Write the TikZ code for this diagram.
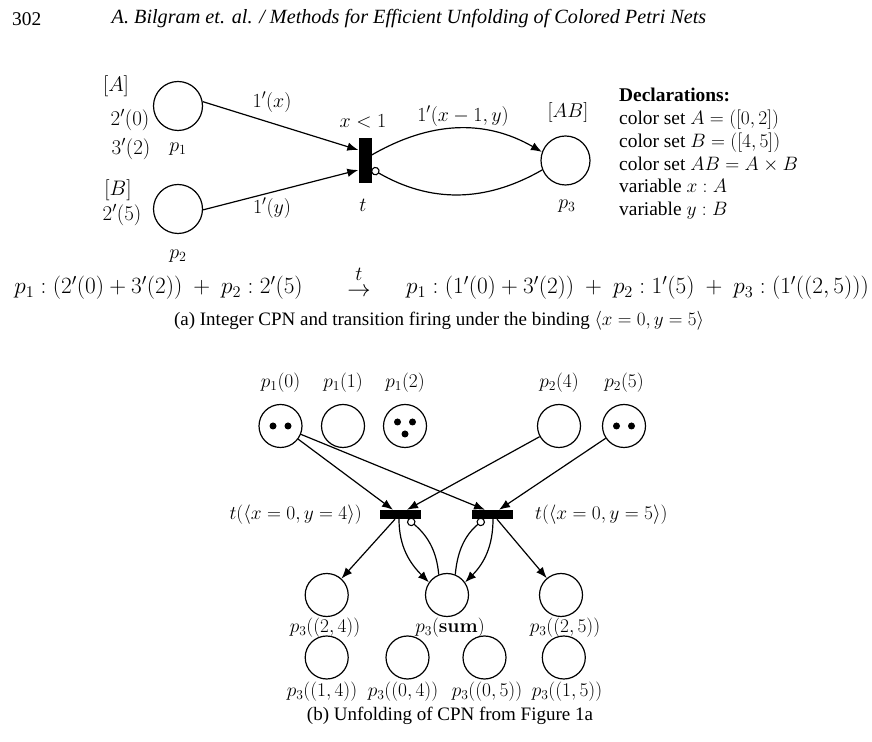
\RequirePackage{fix-cm}
\documentclass[tikz,border=0pt]{standalone}
\usepackage{amsmath}
\usepackage[no-math]{fontspec}
\setmainfont{Liberation Serif}
\usetikzlibrary{arrows.meta}
\newcommand\figfs{\fontsize{19.4}{22.8}\selectfont}
\newcommand\capfs{\fontsize{19}{22.8}\selectfont}
\newcommand\labfs{\fontsize{20}{24}\selectfont}
\newcommand\mrkfs{\fontsize{21}{24}\selectfont}
\newcommand\firefs{\fontsize{23.3}{28}\selectfont}
\newcommand\hdfs{\fontsize{20.2}{24}\selectfont}
\begin{document}
\begin{tikzpicture}[x=1pt,y=1pt,font=\figfs,
  lw/.style={line width=1.2pt},
  placea/.style={circle,draw,lw,minimum size=49pt,inner sep=0pt},
  placeb/.style={circle,draw,lw,minimum size=43pt,inner sep=0pt},
  transa/.style={fill=black,minimum width=13pt,minimum height=45pt,inner sep=0pt},
  transb/.style={fill=black,minimum width=41pt,minimum height=9pt,inner sep=0pt},
  arr/.style={lw,-{Latex[length=11pt,width=8.5pt]}},
  inh/.style={lw,-{Circle[open,length=8.5pt,width=8.5pt,line width=1.1pt]}},
  tok/.style={circle,fill=black,minimum size=7pt,inner sep=0pt},
  txt/.style={inner sep=0pt},
  lab/.style={txt,font=\labfs},
  mrk/.style={txt,font=\mrkfs}]
\useasboundingbox (0,0) rectangle (872,741);
% header
\node[txt,anchor=west] (pg) at (12,722) {302};
\node[txt,font=\hdfs] (hd) at (409,722) {\textit{A. Bilgram et. al. / Methods for Efficient Unfolding of Colored Petri Nets}};
% ---------- part (a)
\node[placea] (p1) at (178,635) {};
\node[placea] (p2) at (178,532) {};
\node[transa] (t) at (365,580) {};
\node[placea] (p3) at (565.5,580.5) {};
\node[mrk] (lA) at (116,655) {$[A]$};
\node[mrk] (m10) at (130,621) {$2'(0)$};
\node[mrk] (m12) at (131,592) {$3'(2)$};
\node[lab] (lp1) at (178,592) {$p_1$};
\node[mrk] (lB) at (118,551) {$[B]$};
\node[mrk] (m25) at (122,526) {$2'(5)$};
\node[lab] (lp2) at (178,485) {$p_2$};
\node[lab] (grd) at (363,620) {$x<1$};
\node[lab] (lt) at (363,536) {$t$};
\node[lab] (ex) at (272,639) {$1'(x)$};
\node[lab] (ey) at (272,533) {$1'(y)$};
\node[lab] (exy) at (463,625) {$1'(x-1,y)$};
\node[lab] (lAB) at (568,628) {$[AB]$};
\node[lab] (lp3) at (567,535) {$p_3$};
\node[txt,anchor=north west,align=left] (decl) at (619,653) {\textbf{Declarations:}\\
color set $A=([0,2])$\\
color set $B=([4,5])$\\
color set $AB=A\times B$\\
variable $x:A$\\
variable $y:B$};
\draw[arr] (p1.10) -- ([yshift=11pt]t.west);
\draw[arr] (p2.-2) -- ([yshift=-9pt]t.west);
\draw[arr] ([yshift=6pt]t.east) to[out=30,in=150] (p3.160);
\draw[inh] (p3.202) to[out=210,in=-30] ([yshift=-8pt]t.east);
% firing
\node[txt,font=\firefs] (fl) at (158.5,453) {$p_1: (2'(0)+3'(2))\ +\ p_2: 2'(5)$};
\node[txt,font=\firefs,align=center] (fa) at (359,458.4) {{\labfs$t$}\\[-12pt]$\rightarrow$};
\node[txt,font=\firefs] (fr) at (637.5,453) {$p_1: (1'(0)+3'(2))\ +\ p_2: 1'(5)\ +\ p_3: (1'((2,5)))$};
\node[txt,font=\capfs] (capa) at (439,420) {(a) Integer CPN and transition firing under the binding $\langle x=0,y=5\rangle$};
% ---------- part (b)
\node[placeb] (q10) at (280.5,315) {};
\node[placeb] (q11) at (343,315) {};
\node[placeb] (q12) at (405,315) {};
\node[placeb] (q24) at (559,315) {};
\node[placeb] (q25) at (624,315) {};
\node[tok] (k1) at ([xshift=-7.5pt]q10.center) {};
\node[tok] (k2) at ([xshift=7.5pt]q10.center) {};
\node[tok] (k3) at ([xshift=-7.5pt,yshift=4pt]q12.center) {};
\node[tok] (k4) at ([xshift=7.5pt,yshift=4pt]q12.center) {};
\node[tok] (k5) at ([yshift=-8pt]q12.center) {};
\node[tok] (k6) at ([xshift=-7.5pt]q25.center) {};
\node[tok] (k7) at ([xshift=7.5pt]q25.center) {};
\node[txt] (l10) at (280.5,358) {$p_1(0)$};
\node[txt] (l11) at (343,358) {$p_1(1)$};
\node[txt] (l12) at (405,358) {$p_1(2)$};
\node[txt] (l24) at (559,358) {$p_2(4)$};
\node[txt] (l25) at (624,358) {$p_2(5)$};
\node[transb] (tl) at (400,226.5) {};
\node[transb] (tr) at (492,226.5) {};
\node[txt,anchor=east] (ltl) at (362,226.5) {$t(\langle x=0,y=4\rangle)$};
\node[txt,anchor=west] (ltr) at (535,226.5) {$t(\langle x=0,y=5\rangle)$};
\node[placeb] (c24) at (326.7,146) {};
\node[placeb] (cs) at (447,146) {};
\node[placeb] (c25) at (561,146) {};
\node[txt] (lc24) at (325,113) {$p_3((2,4))$};
\node[txt] (lcs) at (450,113) {$p_3(\mathbf{sum})$};
\node[txt] (lc25) at (565,113) {$p_3((2,5))$};
\node[placeb] (c14) at (326.7,83.5) {};
\node[placeb] (c04) at (407.5,83.5) {};
\node[placeb] (c05) at (484.5,83.5) {};
\node[placeb] (c15) at (563.8,83.5) {};
\node[txt] (lc14) at (322,49.5) {$p_3((1,4))$};
\node[txt] (lc04) at (403,49.5) {$p_3((0,4))$};
\node[txt] (lc05) at (487,49.5) {$p_3((0,5))$};
\node[txt] (lc15) at (567,49.5) {$p_3((1,5))$};
\node[txt,font=\capfs] (capb) at (450,25) {(b) Unfolding of CPN from Figure 1a};
\draw[arr] (q10) -- ([xshift=-7pt]tl.north);
\draw[arr] (q24) -- ([xshift=7pt]tl.north);
\draw[arr] (q10) -- ([xshift=-7pt]tr.north);
\draw[arr] (q25) -- ([xshift=7pt]tr.north);
\draw[arr] ([xshift=-5pt]tl.south) -- (c24);
\draw[arr] ([xshift=5pt]tr.south) -- (c25);
\draw[arr] ([xshift=-1pt]tl.south) to[out=-90,in=135] (cs.145);
\draw[arr] ([xshift=1pt]tr.south) to[out=-90,in=45] (cs.35);
\draw[inh] (cs.112) to[out=95,in=-40] ([xshift=8pt]tl.south);
\draw[inh] (cs.68) to[out=85,in=220] ([xshift=-8pt]tr.south);
\end{tikzpicture}
\end{document}
